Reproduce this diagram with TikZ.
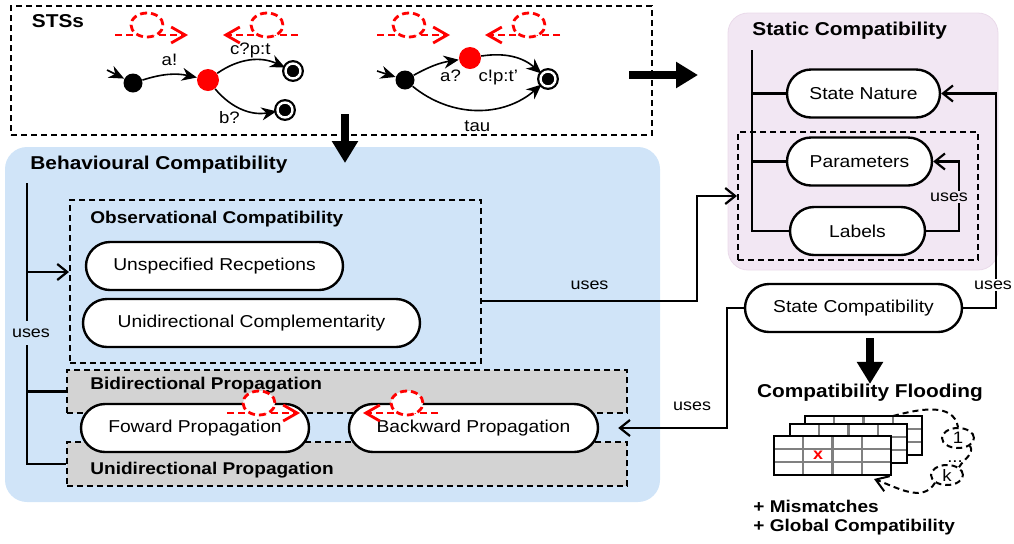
\documentclass[tikz,border=0pt]{standalone}
\usepackage{fontspec}
\setmainfont{Liberation Sans}[FakeStretch=1.12]
\usetikzlibrary{arrows.meta, shapes.geometric}

\definecolor{behblue}{HTML}{D0E4F8}
\definecolor{statpink}{HTML}{F2E7F3}
\definecolor{statedge}{HTML}{EADAEA}
\definecolor{propgray}{HTML}{D3D3D3}

\begin{document}
\begin{tikzpicture}[
    x = 0.5pt, y = -0.5pt,
    %
    stadium/.style = {draw, fill = white, line width = 1.2pt,
      rounded corners = 12pt, minimum height = 24pt, inner sep = 0pt,
      font = \fontsize{8.6}{10}\selectfont},
    dbox/.style = {draw, line width = 1pt, dash pattern = on 3pt off 2pt},
    title/.style = {font = \fontsize{9.3}{11}\selectfont\bfseries, inner sep = 0pt},
    subtitle/.style = {font = \fontsize{8.5}{10}\selectfont\bfseries, inner sep = 0pt},
    uses/.style = {font = \fontsize{8}{10}\selectfont, inner sep = 1pt},
    branch/.style = {line width = 1.1pt},
    link/.style = {line width = 1.1pt, -{Straight Barb[length = 5pt, width = 8pt]}},
    bigarrow/.style = {line width = 4pt, -{Triangle[length = 11pt, width = 12.5pt]}},
    %
    state/.style = {circle, fill = black, inner sep = 0pt, minimum size = 9.5pt},
    redstate/.style = {state, fill = red, minimum size = 11pt},
    final/.style = {circle, fill = black, inner sep = 0pt, minimum size = 7.5pt,
      draw, line width = 1.1pt, double = white, double distance = 1.2pt},
    trans/.style = {line width = 0.8pt, -{Stealth[length = 7.5pt, width = 6.5pt]}},
    lbl/.style = {font = \fontsize{8.3}{10}\selectfont, inner sep = 1pt},
    %
    redloop/.style = {red, line width = 1.4pt, dash pattern = on 3.5pt off 2pt},
    fwdloop/.pic = {
      \draw [redloop, -{Straight Barb[length = 7pt, width = 8pt]}] (0, 0) -- (73, 0);
      \draw [redloop, fill = white] (32, -10) ellipse [x radius = 8pt, y radius = 6pt];
    },
    bwdloop/.pic = {
      \draw [redloop, -{Straight Barb[length = 7pt, width = 8pt]}] (75, 0) -- (0, 0);
      \draw [redloop, fill = white] (44, -10) ellipse [x radius = 8pt, y radius = 6pt];
    },
    ]

    \useasboundingbox (0, 0) rectangle (1014, 543);

    % containers
    \node at (332.5, 324.5)
    [fill = behblue, rounded corners = 11pt, minimum width = 327.5pt,
      minimum height = 177.5pt, name = beh] {};
    \node at (863, 141.5)
    [fill = statpink, draw = statedge, rounded corners = 10pt,
      minimum width = 135pt, minimum height = 128.5pt, name = stat] {};
    \node at (331.5, 70.5)
    [dbox, minimum width = 320.5pt, minimum height = 64.5pt, name = sts] {};
    \node at (275.5, 281.5)
    [dbox, minimum width = 205.5pt, minimum height = 81.5pt, name = obs] {};
    \node at (347, 391.5)
    [dbox, fill = propgray, minimum width = 280pt, minimum height = 21.5pt, name = bidi] {};
    \node at (347, 464)
    [dbox, fill = propgray, minimum width = 280pt, minimum height = 22pt, name = unidi] {};
    \node at (858, 196)
    [dbox, minimum width = 120pt, minimum height = 64pt, name = inner] {};

    % titles
    \node at (58, 21) [title, name = ststitle] {STSs};
    \node at (30, 165) [title, anchor = west, name = behtitle] {Behavioural Compatibility};
    \node at (90, 219) [subtitle, anchor = west, name = obstitle] {Observational Compatibility};
    \node at (90, 385) [subtitle, anchor = west, name = biditle] {Bidirectional Propagation};
    \node at (90, 470) [subtitle, anchor = west, name = uniditle] {Unidirectional Propagation};
    \node at (752, 31) [title, anchor = west, name = stattitle] {Static Compatibility};
    \node at (870, 393) [title, name = flood] {Compatibility Flooding};

    % checks
    \node at (214.5, 266) [stadium, minimum width = 128.5pt, name = unspec] {Unspecified Recpetions};
    \node at (251.5, 323) [stadium, minimum width = 168.5pt, name = unicomp] {Unidirectional Complementarity};
    \node at (195, 428) [stadium, minimum width = 114pt, name = fwd] {Foward Propagation};
    \node at (473.5, 428) [stadium, minimum width = 124.5pt, name = bwd] {Backward Propagation};
    \node at (863.5, 93.5) [stadium, minimum width = 76.5pt, name = sn] {State Nature};
    \node at (859.5, 161.5) [stadium, minimum width = 72.5pt, name = par] {Parameters};
    \node at (857.5, 231) [stadium, minimum width = 67.5pt, name = lab] {Labels};
    \node at (853.5, 308) [stadium, minimum width = 108.5pt, name = stc] {State Compatibility};

    % first STS
    \node at (133, 83) [state, name = a0] {};
    \node at (208, 80) [redstate, name = a1] {};
    \node at (293, 71) [final, name = a2] {};
    \node at (285, 110) [final, name = a3] {};
    \coordinate (ain) at (107, 70);
    \draw [trans] (ain) -- (a0);
    \draw [trans] (a0) to [bend left = 15] node [lbl, above = 3pt] {a!} (a1);
    \draw [trans] (a1) to [bend left = 30] node [lbl, above] {c?p:t} (a2);
    \draw [trans] (a1) to [bend right = 30] node [lbl, below left] {b?} (a3);

    % second STS
    \node at (405, 80) [state, name = b0] {};
    \node at (470, 58) [redstate, name = b1] {};
    \node at (548, 79) [final, name = b2] {};
    \coordinate (bin) at (377, 71);
    \draw [trans] (bin) -- (b0);
    \draw [trans] (b0) to [bend left = 10] node [lbl, below right = 1pt] {a?} (b1);
    \draw [trans] (b1) to [bend left = 25] node [lbl, below = 6pt, pos = 0.25] {c!p:t'} (b2);
    \draw [trans] (b0) to [bend right = 40] node [lbl, below = 4pt] {tau} (b2);

    % big arrows
    \draw [bigarrow] ([xshift = 6.75pt, yshift = 11pt] sts.south) -- ++(0, 49);
    \draw [bigarrow] ([xshift = -12pt, yshift = -2.25pt] sts.east) -- ++(69, 0);
    \draw [bigarrow] ([yshift = -2.5pt] stc.south -| flood.north) -- (flood.north);

    % behavioural uses
    \coordinate (btop) at (27, 183);
    \draw [branch] (btop) |- (unidi.west);
    \draw [branch] (btop) |- (bidi.west);
    \draw [link] (btop) |- ([yshift = 4.75pt] obs.west);
    \node at (31, 333) [uses, fill = behblue, inner ysep = 4pt] {uses};

    % static branches
    \coordinate (stop) at (752, 50);
    \draw [branch] (stop) |- (lab.west);
    \draw [branch] (stop |- sn.west) -- (sn.west);
    \draw [branch] (stop |- par.west) -- (par.west);
    \draw [link] (lab.east) -- ++(33, 0) |- (par.east);
    \node at (949, 197) [uses, fill = statpink] {uses};

    % cross links
    \draw [link] ([yshift = -9.75pt] obs.east)
    -- node [uses, above = 4pt] {uses} ++(215, 0) |- (inner.west);
    \draw [link] (stc.west) -- ++(-17, 0)
    |- node [uses, pos = 0.66, above = 7pt] {uses} ([xshift = 9.5pt] bwd.east);
    \draw [link] (stc.east) -- ++(33, 0) |- (sn.east);
    \node at (993, 285) [uses, fill = white] {uses};

    % flooding sheets
    \foreach \dx/\dy in {31/-20, 16/-12, 0/0} {
      \begin{scope}[shift = {(\dx, \dy)}]
        \fill [white] (774, 436) rectangle (891, 475);
        \foreach \c in {803.25, 832.5, 861.75}
          \draw [gray, line width = 1.1pt] (\c, 436) -- (\c, 475);
        \foreach \r in {449, 462}
          \draw [gray, line width = 1.1pt] (774, \r) -- (891, \r);
        \draw [line width = 1.3pt] (774, 436) rectangle (891, 475);
      \end{scope}
    }
    \node at (818, 455.5) [text = red, inner sep = 0pt,
      font = \fontsize{8}{9}\selectfont\bfseries, name = mis] {x};

    \coordinate (loopstart) at (893, 416);
    \coordinate (loopend) at (874, 479);
    \node at (958, 438) [ellipse, dbox, lbl, minimum width = 16pt,
      minimum height = 10pt, inner sep = 0pt, name = it1] {1};
    \node at (955, 461) [lbl, inner sep = 0pt, text height = 1.5pt,
      text depth = 0pt, name = itdots] {...};
    \node at (947, 475) [ellipse, dbox, lbl, minimum width = 16pt,
      minimum height = 10pt, inner sep = 0pt, name = itk] {k};
    \draw [dbox] (loopstart) to [out = 15, in = 100] (it1.north);
    \draw [dbox] (it1.south east) to [out = -60, in = 60] (itk.north east);
    \draw [dbox, -{Straight Barb[length = 6pt, width = 8pt]}]
    (itk.south west) to [out = -120, in = -20] (loopend);

    \node at (753, 506) [subtitle, anchor = west, name = res1] {+ Mismatches};
    \node at (753, 527) [subtitle, anchor = west, name = res2] {+ Global Compatibility};

    % red loops
    \pic at (115, 35) {fwdloop};
    \pic at (223, 35) {bwdloop};
    \pic at (377, 35) {fwdloop};
    \pic at (485, 35) {bwdloop};
    \pic at (227, 413) {fwdloop};
    \pic at (363, 413) {bwdloop};

  \end{tikzpicture}
\end{document}
